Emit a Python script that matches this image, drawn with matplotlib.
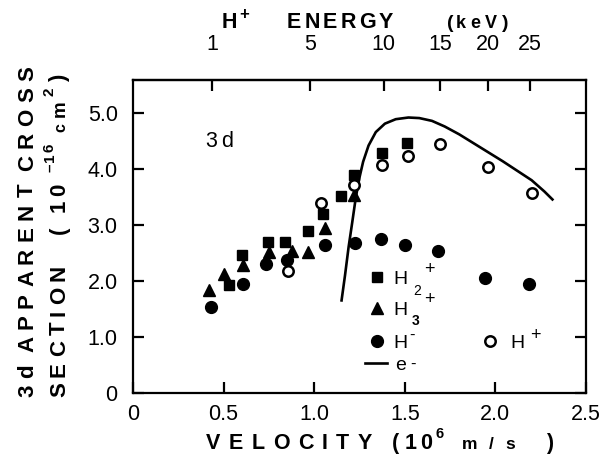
import numpy as np
import matplotlib
matplotlib.use("Agg")
import matplotlib.pyplot as plt
from matplotlib.transforms import IdentityTransform

plt.rcParams['font.family'] = ['Liberation Sans', 'DejaVu Sans']

# data (velocity in 1e6 m/s, cross section in 1e-16 cm^2)
h2_v = [0.53, 0.60, 0.745, 0.84, 0.965, 1.05, 1.15, 1.22, 1.375, 1.51]
h2_s = [1.93, 2.46, 2.70, 2.70, 2.89, 3.19, 3.52, 3.90, 4.28, 4.47]

h3_v = [0.42, 0.50, 0.605, 0.75, 0.875, 0.965, 1.06, 1.22]
h3_s = [1.84, 2.12, 2.29, 2.51, 2.54, 2.52, 2.94, 3.54]

hm_v = [0.43, 0.605, 0.735, 0.85, 1.06, 1.225, 1.37, 1.50, 1.685, 1.94, 2.185]
hm_s = [1.54, 1.94, 2.30, 2.38, 2.65, 2.67, 2.75, 2.65, 2.54, 2.06, 1.95]

hp_v = [0.855, 1.04, 1.22, 1.375, 1.515, 1.695, 1.96, 2.20]
hp_s = [2.18, 3.40, 3.71, 4.08, 4.23, 4.45, 4.03, 3.57]

e_v = [1.15, 1.17, 1.19, 1.21, 1.23, 1.25, 1.27, 1.30, 1.34, 1.39, 1.45, 1.52, 1.58,
       1.65, 1.72, 1.80, 1.88, 1.96, 2.04, 2.12, 2.20, 2.27, 2.32]
e_s = [1.63, 2.10, 2.61, 3.05, 3.50, 3.85, 4.13, 4.42, 4.66, 4.81, 4.89, 4.92, 4.91,
       4.86, 4.76, 4.62, 4.46, 4.30, 4.14, 3.97, 3.80, 3.60, 3.44]

energy_ticks = [1, 5, 10, 15, 20, 25]
vel_ticks = [0, 0.5, 1.0, 1.5, 2.0, 2.5]
vel_labels = ['0', '0.5', '1.0', '1.5', '2.0', '2.5']
sec_ticks = [0, 1, 2, 3, 4, 5]
sec_labels = ['0', '1.0', '2.0', '3.0', '4.0', '5.0']

W, H = 605, 457


def e2v(E):
    E = np.clip(np.asarray(E, dtype=float), 0, None)
    return np.sqrt(2 * E * 1.602e-16 / 1.6726e-27) / 1e6


def v2e(v):
    v = np.asarray(v, dtype=float)
    return (v * 1e6) ** 2 * 1.6726e-27 / 2 / 1.602e-16


fig = plt.figure(figsize=(W / 100, H / 100), dpi=100)
renderer = fig.canvas.get_renderer()
ax = fig.add_axes([133 / W, 64 / H, 453 / W, 313 / H])

ax.plot(e_v, e_s, color='black', lw=1.9, solid_capstyle='butt')
ax.plot(h2_v, h2_s, 's', color='black', ms=7.5)
ax.plot(h3_v, h3_s, '^', color='black', ms=8.5)
ax.plot(hm_v, hm_s, 'o', color='black', ms=8.5)
ax.plot(hp_v, hp_s, 'o', mfc='white', mec='black', mew=1.8, ms=7.5)

ax.set_xlim(0, 2.5)
ax.set_ylim(0, 5.59)
ax.set_xticks(vel_ticks)
ax.set_xticklabels(vel_labels)
ax.set_yticks(sec_ticks)
ax.set_yticklabels(sec_labels)
ax.tick_params(axis='both', direction='in', length=8, width=1.6, labelsize=15.5,
               right=True)
ax.tick_params(axis='x', pad=8)
ax.tick_params(axis='y', pad=11)
for sp in ax.spines.values():
    sp.set_linewidth(1.6)

top = ax.secondary_xaxis('top', functions=(v2e, e2v))
top.set_xticks(energy_ticks)
top.set_xticklabels([str(e) for e in energy_ticks])
top.tick_params(direction='in', length=8, width=1.6, labelsize=15.5, pad=18)
top.spines['top'].set_linewidth(1.6)


def spaced(start, end, base, text, size=15.5, weight='bold', rot=0):
    """Letter-spaced text in pixel coords (top-left origin).
    rot=0: start/end are x, base is baseline y.
    rot=90: start/end are y (bottom to top), base is baseline x.
    A blank counts as an empty letter, so words get a double gap."""
    arts, sizes = [], []
    for ch in text:
        if ch == ' ':
            arts.append(None)
            sizes.append(0.0)
            continue
        if rot == 0:
            t = fig.text(0, 0, ch, fontsize=size, fontweight=weight,
                         ha='left', va='baseline', transform=IdentityTransform())
            sizes.append(t.get_window_extent(renderer).width)
        else:
            t = fig.text(0, 0, ch, fontsize=size, fontweight=weight, rotation=90,
                         rotation_mode='anchor', ha='left', va='baseline',
                         transform=IdentityTransform())
            sizes.append(t.get_window_extent(renderer).height)
        arts.append(t)
    span = abs(end - start) if end is not None else sum(sizes)
    gap = (span - sum(sizes)) / (len(text) - 1) if len(text) > 1 else 0
    pos = 0.0
    for t, s in zip(arts, sizes):
        if t is not None:
            if rot == 0:
                t.set_position((start + pos, H - base))
            else:
                t.set_position((base, H - start + pos))
        pos += s + gap


# bottom axis title
spaced(206, 372, 449, 'VELOCITY')
spaced(392, None, 449, '(')
spaced(405, 432, 449, '10')
spaced(436, None, 438, '6', size=10.5)
spaced(462, 515, 449, 'm/s', size=12.5)
spaced(546, None, 449, ')')

# top axis title
spaced(222, None, 28, 'H')
spaced(239, None, 19, '+', size=12)
spaced(287, 393, 28, 'ENERGY')
spaced(447, None, 28, '(', size=14)
spaced(456, 497, 28, 'keV', size=13)
spaced(502, None, 28, ')', size=14)

# left axis title, two rotated lines
spaced(397, 66, 33, '3d APPARENT CROSS', size=16, rot=90)
spaced(397, 265, 65, 'SECTION', size=16, rot=90)
spaced(234, None, 65, '(', size=16, rot=90)
spaced(212, 184, 65, '10', size=16, rot=90)
spaced(172, 144, 54, '\u201316', size=11, rot=90)
spaced(132, None, 65, 'c', size=11.5, rot=90)
spaced(117, None, 65, 'm', size=13.5, rot=90)
spaced(96, None, 54, '2', size=11, rot=90)
spaced(82, None, 65, ')', size=16, rot=90)

# panel label
spaced(205, 233, 147, '3d', size=15.5, weight='normal')

# legend, drawn by hand to follow the original layout
def ax_xy(px, py):
    return ((px - 133) / 453, (393 - py) / 313)

for py, mk, kw in [(277, 's', dict(color='black', ms=7.5)),
                   (308, '^', dict(color='black', ms=8.5)),
                   (341, 'o', dict(color='black', ms=8.5))]:
    x, y = ax_xy(376.5, py)
    ax.plot([x], [y], mk, transform=ax.transAxes, **kw)
x, y = ax_xy(490, 341)
ax.plot([x], [y], 'o', mfc='white', mec='black', mew=1.8, ms=7.5, transform=ax.transAxes)
x1, y1 = ax_xy(365, 363)
x2, _ = ax_xy(387, 363)
ax.plot([x1, x2], [y1, y1], color='black', lw=1.9, transform=ax.transAxes)

spaced(393, None, 284, 'H', size=14, weight='normal')
spaced(413, None, 295, '2', size=10, weight='normal')
spaced(424, None, 274, '+', size=13, weight='normal')
spaced(393, None, 315, 'H', size=14, weight='normal')
spaced(412, None, 325, '3', size=10)
spaced(424, None, 304, '+', size=13, weight='normal')
spaced(393, None, 348, 'H', size=14, weight='normal')
spaced(409, None, 340, '-', size=12, weight='normal')
spaced(395, None, 370, 'e', size=14, weight='normal')
spaced(410, None, 369, '-', size=12, weight='normal')
spaced(510, None, 348, 'H', size=14, weight='normal')
spaced(530, None, 340, '+', size=13, weight='normal')

fig.savefig('out.png', dpi=100)
